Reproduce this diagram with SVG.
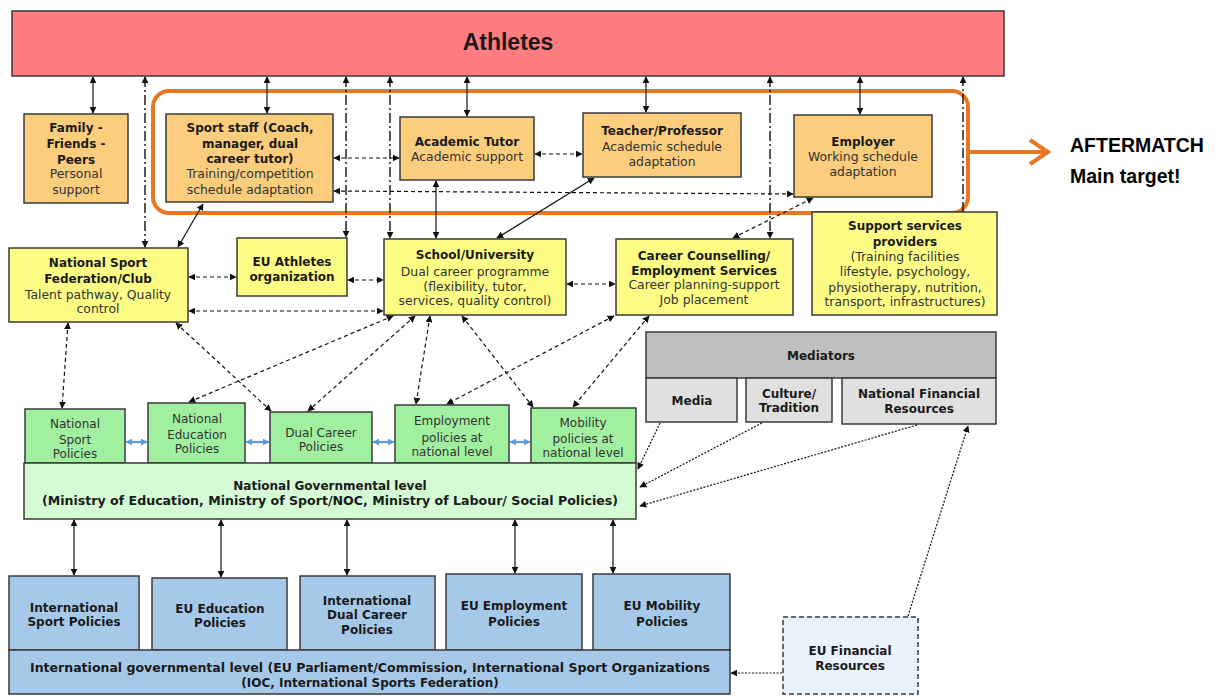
<svg xmlns="http://www.w3.org/2000/svg" width="1219" height="696" viewBox="0 0 1219 696">
<defs>
<marker id="ah" viewBox="0 0 10 10" refX="9" refY="5" markerWidth="7" markerHeight="7" markerUnits="userSpaceOnUse" orient="auto-start-reverse"><path d="M0,0 L10,5 L0,10 z" fill="#111"/></marker>
<marker id="ahb" viewBox="0 0 10 10" refX="9" refY="5" markerWidth="7" markerHeight="7" markerUnits="userSpaceOnUse" orient="auto-start-reverse"><path d="M0,0 L10,5 L0,10 z" fill="#5b9bd5"/></marker>
</defs>
<style>
rect{stroke:#3a3a3a;stroke-width:1.5}
.org{fill:#fbcd7c}
.yel{fill:#fdfd86}
.grn{fill:#a0f0a0}
.gov{fill:#d5fbd5}
.gry{fill:#bfbfbf}
.lgr{fill:#e0e0e0}
.blu{fill:#a6c9ea}
text{font-family:"DejaVu Sans",Verdana,sans-serif;font-size:12.4px;text-anchor:middle;fill:#333}
.b{font-weight:bold;fill:#1a1a1a;font-size:12px}
.s{font-size:12px}
.c line,.c path{fill:none;stroke:#111;stroke-width:1.2}
.sol{marker-start:url(#ah);marker-end:url(#ah)}
.d{stroke-dasharray:4 3}
.dd{stroke-dasharray:10 3 2 3;stroke-width:1.4 !important}
.dt{stroke-dasharray:2 1.5}
.blue{stroke:#5b9bd5 !important;stroke-width:2.2 !important;marker-start:url(#ahb);marker-end:url(#ahb)}
</style>

<g id="athletes"><rect x="12" y="11" width="992" height="65" fill="#ff7c80"/><text x="508" y="50" style="font-family:'Liberation Sans',Arial,sans-serif;font-size:23px" class="b">Athletes</text></g>

<g id="aftermatch">
<rect x="153" y="91" width="815" height="122" rx="16" fill="none" style="stroke:#e87722;stroke-width:4"/>
<line x1="968" y1="152" x2="1047" y2="152" stroke="#e87722" stroke-width="4"/>
<polyline points="1030,140 1048,152 1030,164" fill="none" stroke="#e87722" stroke-width="4" stroke-linejoin="miter"/>
<text x="1070" y="152" class="b" style="font-family:'Liberation Sans',Arial,sans-serif;font-size:19.5px;text-anchor:start;fill:#000">AFTERMATCH</text>
<text x="1070" y="183" class="b" style="font-family:'Liberation Sans',Arial,sans-serif;font-size:19.5px;text-anchor:start;fill:#000">Main target!</text>
</g>

<g id="family"><rect class="org" x="24" y="114" width="104" height="89"/>
<text x="76" y="132" class="b">Family -</text><text x="76" y="148" class="b">Friends -</text><text x="76" y="164" class="b">Peers</text><text x="76" y="178">Personal</text><text x="76" y="194">support</text></g>

<g id="sportstaff"><rect class="org" x="166" y="114" width="167" height="88"/>
<text x="250" y="132" class="b">Sport staff (Coach,</text><text x="250" y="148" class="b">manager, dual</text><text x="250" y="163" class="b">career tutor)</text><text x="250" y="178">Training/competition</text><text x="250" y="194">schedule adaptation</text></g>

<g id="tutor"><rect class="org" x="400" y="117" width="134" height="63"/>
<text x="467" y="146" class="b">Academic Tutor</text><text x="467" y="161">Academic support</text></g>

<g id="teacher"><rect class="org" x="583" y="113" width="158" height="64"/>
<text x="662" y="135" class="b">Teacher/Professor</text><text x="662" y="151">Academic schedule</text><text x="662" y="166">adaptation</text></g>

<g id="employer"><rect class="org" x="794" y="115" width="138" height="82"/>
<text x="863" y="146" class="b">Employer</text><text x="863" y="161">Working schedule</text><text x="863" y="176">adaptation</text></g>

<g id="nsf"><rect class="yel" x="9" y="248" width="179" height="74"/>
<text x="98" y="267" class="b">National Sport</text><text x="98" y="283" class="b">Federation/Club</text><text x="98" y="299">Talent pathway, Quality</text><text x="98" y="313">control</text></g>

<g id="euathletes"><rect class="yel" x="237" y="238" width="110" height="58"/>
<text x="292" y="266" class="b">EU Athletes</text><text x="292" y="281" class="b">organization</text></g>

<g id="school"><rect class="yel" x="384" y="239" width="182" height="76"/>
<text x="475" y="259" class="b">School/University</text><text x="475" y="276">Dual career programme</text><text x="475" y="291">(flexibility, tutor,</text><text x="475" y="305">services, quality control)</text></g>

<g id="career"><rect class="yel" x="616" y="239" width="177" height="76"/>
<text x="704" y="260" class="b">Career Counselling/</text><text x="704" y="275" class="b">Employment Services</text><text x="704" y="289">Career planning-support</text><text x="704" y="304">Job placement</text></g>

<g id="support"><rect class="yel" x="812" y="212" width="185" height="103"/>
<text x="905" y="230" class="b">Support services</text><text x="905" y="246" class="b">providers</text><text x="905" y="261">(Training facilities</text><text x="905" y="276">lifestyle, psychology,</text><text x="905" y="292">physiotherapy, nutrition,</text><text x="905" y="306">transport, infrastructures)</text></g>

<g id="mediators"><rect class="gry" x="646" y="332" width="350" height="46"/><text x="821" y="360" class="b">Mediators</text></g>
<g id="media"><rect class="lgr" x="646" y="378" width="91" height="44"/><text x="692" y="405" class="b">Media</text></g>
<g id="culture"><rect class="lgr" x="746" y="378" width="86" height="44"/><text x="789" y="398" class="b">Culture/</text><text x="789" y="412" class="b">Tradition</text></g>
<g id="nfr"><rect class="lgr" x="842" y="378" width="154" height="46"/><text x="919" y="398" class="b">National Financial</text><text x="919" y="413" class="b">Resources</text></g>

<g id="nsp"><rect class="grn" x="25" y="409" width="100" height="54"/><text x="75" y="428" class="s">National</text><text x="75" y="444" class="s">Sport</text><text x="75" y="458" class="s">Policies</text></g>
<g id="nep"><rect class="grn" x="148" y="403" width="97" height="60"/><text x="197" y="423" class="s">National</text><text x="197" y="439" class="s">Education</text><text x="197" y="453" class="s">Policies</text></g>
<g id="dcp"><rect class="grn" x="270" y="412" width="102" height="51"/><text x="321" y="437" class="s">Dual Career</text><text x="321" y="451" class="s">Policies</text></g>
<g id="emp"><rect class="grn" x="395" y="405" width="114" height="58"/><text x="452" y="425" class="s">Employment</text><text x="452" y="442" class="s">policies at</text><text x="452" y="456" class="s">national level</text></g>
<g id="mob"><rect class="grn" x="531" y="408" width="105" height="55"/><text x="583" y="427" class="s">Mobility</text><text x="583" y="443" class="s">policies at</text><text x="583" y="457" class="s">national level</text></g>

<g id="natgov"><rect class="gov" x="24" y="463" width="612" height="56"/>
<text x="330" y="490" class="b">National Governmental level</text>
<text x="330" y="505" class="b" textLength="576" lengthAdjust="spacingAndGlyphs">(Ministry of Education, Ministry of Sport/NOC, Ministry of Labour/ Social Policies)</text></g>

<g id="isp"><rect class="blu" x="9" y="576" width="130" height="74"/><text x="74" y="612" class="b">International</text><text x="74" y="626" class="b">Sport Policies</text></g>
<g id="eue"><rect class="blu" x="152" y="578" width="135" height="72"/><text x="220" y="613" class="b">EU Education</text><text x="220" y="627" class="b">Policies</text></g>
<g id="idc"><rect class="blu" x="300" y="576" width="135" height="74"/><text x="367" y="605" class="b">International</text><text x="367" y="619" class="b">Dual Career</text><text x="367" y="634" class="b">Policies</text></g>
<g id="euemp"><rect class="blu" x="446" y="574" width="136" height="76"/><text x="514" y="610" class="b">EU Employment</text><text x="514" y="626" class="b">Policies</text></g>
<g id="eumob"><rect class="blu" x="593" y="574" width="137" height="76"/><text x="662" y="610" class="b">EU Mobility</text><text x="662" y="626" class="b">Policies</text></g>

<g id="intgov"><rect class="blu" x="9" y="650" width="721" height="44"/>
<text x="370" y="672" class="b" textLength="680" lengthAdjust="spacingAndGlyphs">International governmental level (EU Parliament/Commission, International Sport Organizations</text>
<text x="370" y="687" class="b">(IOC, International Sports Federation)</text></g>

<g id="eufin"><rect x="783" y="617" width="135" height="77" fill="#eaf2fb" style="stroke-dasharray:5 3"/><text x="850" y="655" class="b">EU Financial</text><text x="850" y="670" class="b">Resources</text></g>

<g id="connectors" class="c">
<line class="sol" x1="93" y1="77" x2="93" y2="113"/>
<line class="sol dd" x1="145" y1="77" x2="145" y2="247"/>
<line class="sol" x1="267" y1="77" x2="267" y2="113"/>
<line class="sol dd" x1="346" y1="77" x2="346" y2="237"/>
<line class="sol dd" x1="390" y1="77" x2="390" y2="238"/>
<line class="sol" x1="467" y1="77" x2="467" y2="116"/>
<line class="sol" x1="646" y1="77" x2="646" y2="112"/>
<line class="sol dd" x1="770" y1="77" x2="770" y2="238"/>
<line class="sol" x1="860" y1="77" x2="860" y2="114"/>
<line class="dd" x1="963" y1="212" x2="963" y2="77" marker-end="url(#ah)"/>
<line class="sol d" x1="334" y1="158" x2="399" y2="158"/>
<line class="sol d" x1="535" y1="154" x2="582" y2="154"/>
<line class="sol d" x1="334" y1="191" x2="793" y2="194"/>
<line class="sol d" x1="733" y1="238" x2="813" y2="198"/>
<line class="sol" x1="203" y1="204" x2="178" y2="247"/>
<line class="sol" x1="436" y1="181" x2="436" y2="238"/>
<line class="sol" x1="497" y1="238" x2="594" y2="178"/>
<line class="sol d" x1="189" y1="277" x2="236" y2="277"/>
<line class="sol d" x1="348" y1="280" x2="383" y2="280"/>
<line class="sol d" x1="189" y1="311" x2="383" y2="311"/>
<line class="sol d" x1="567" y1="284" x2="615" y2="284"/>
<line class="sol d" x1="68" y1="323" x2="62" y2="408"/>
<line class="sol d" x1="176" y1="323" x2="271" y2="411"/>
<line class="sol d" x1="393" y1="316" x2="189" y2="402"/>
<line class="sol d" x1="415" y1="316" x2="308" y2="411"/>
<line class="sol d" x1="430" y1="316" x2="416" y2="404"/>
<line class="sol d" x1="462" y1="316" x2="533" y2="407"/>
<line class="sol d" x1="614" y1="316" x2="447" y2="404"/>
<line class="sol d" x1="649" y1="316" x2="573" y2="407"/>
<line class="blue" x1="126" y1="442" x2="147" y2="442"/>
<line class="blue" x1="246" y1="442" x2="269" y2="442"/>
<line class="blue" x1="373" y1="442" x2="394" y2="442"/>
<line class="blue" x1="510" y1="442" x2="530" y2="442"/>
<line class="sol" x1="74" y1="520" x2="74" y2="575"/>
<line class="sol" x1="221" y1="520" x2="221" y2="577"/>
<line class="sol" x1="347" y1="520" x2="347" y2="575"/>
<line class="sol" x1="515" y1="520" x2="515" y2="573"/>
<line class="sol" x1="613" y1="520" x2="613" y2="573"/>
<line class="dt" x1="660" y1="423" x2="638" y2="469" marker-end="url(#ah)"/>
<line class="dt" x1="762" y1="423" x2="640" y2="487" marker-end="url(#ah)"/>
<line class="dt" x1="917" y1="425" x2="640" y2="506" marker-end="url(#ah)"/>
<line class="dt" x1="908" y1="616" x2="968" y2="426" marker-end="url(#ah)"/>
<line class="dt" x1="782" y1="673" x2="731" y2="673" marker-end="url(#ah)"/>
</g>
</svg>
